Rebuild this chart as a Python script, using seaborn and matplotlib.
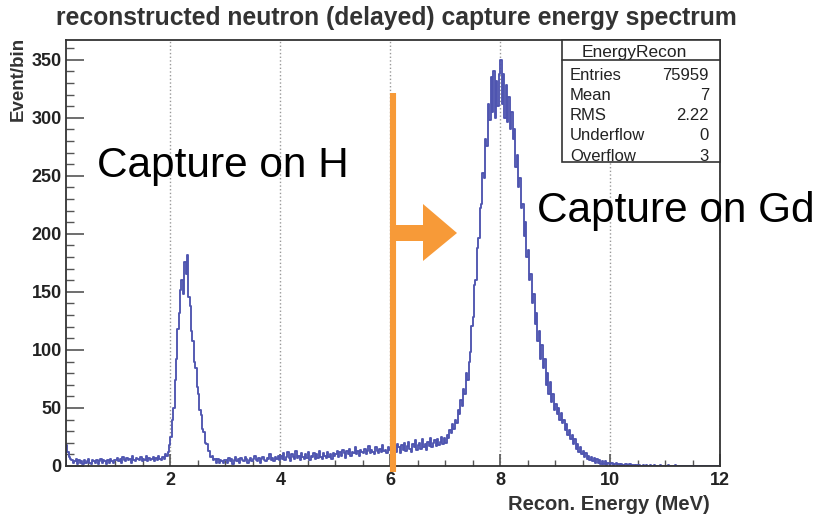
import numpy as np
import pandas as pd
import matplotlib
matplotlib.use('Agg')
import matplotlib.pyplot as plt
from matplotlib.ticker import MultipleLocator
from matplotlib.patches import Polygon, Rectangle
import seaborn as sns

# histogram counts, 0.025 MeV bins from 0 to 12 MeV (one row per MeV, 40 bins each)
counts_0 = [0, 0, 0, 0, 18, 12, 8, 6, 5, 3, 4, 6, 2, 5, 3, 4, 2, 5, 3, 4,
            6, 3, 2, 5, 4, 3, 5, 2, 4, 6, 3, 5, 4, 2, 5, 3, 6, 4, 3, 5]
counts_1 = [5, 7, 4, 6, 3, 8, 5, 4, 7, 5, 6, 3, 9, 5, 4, 7, 6, 5, 8, 4,
            6, 5, 9, 4, 7, 5, 6, 8, 4, 7, 5, 9, 6, 5, 8, 6, 10, 9, 12, 18]
counts_2 = [25, 40, 50, 74, 92, 118, 132, 152, 160, 148, 176, 165, 182, 146, 138, 116, 108, 90, 84, 68,
            62, 48, 44, 32, 29, 20, 19, 13, 13, 8, 9, 5, 6, 3, 6, 3, 5, 4, 3, 5]
counts_3 = [5, 3, 7, 4, 6, 2, 5, 8, 4, 6, 3, 7, 5, 4, 8, 6, 3, 5, 7, 4,
            6, 9, 5, 4, 7, 3, 6, 8, 5, 4, 7, 6, 10, 5, 7, 4, 8, 6, 9, 5]
counts_4 = [9, 6, 11, 5, 8, 12, 7, 4, 10, 8, 6, 13, 7, 9, 5, 11, 8, 6, 10, 7,
            12, 5, 9, 8, 11, 6, 10, 7, 13, 8, 6, 11, 9, 7, 12, 8, 10, 6, 11, 9]
counts_5 = [10, 13, 8, 12, 9, 14, 11, 7, 13, 10, 15, 9, 12, 11, 16, 10, 13, 9, 14, 12,
            11, 15, 10, 13, 17, 11, 14, 12, 10, 16, 13, 11, 15, 12, 18, 13, 14, 11, 16, 14]
counts_6 = [15, 18, 13, 17, 12, 19, 16, 11, 18, 14, 20, 13, 17, 21, 15, 12, 19, 16, 22, 14,
            18, 20, 15, 23, 16, 19, 14, 21, 17, 24, 16, 20, 22, 17, 23, 18, 21, 25, 19, 24]
counts_7 = [20, 27, 24, 31, 28, 36, 32, 40, 37, 48, 45, 57, 52, 66, 62, 80, 74, 90, 98, 121,
            128, 156, 160, 188, 196, 222, 226, 252, 248, 282, 276, 312, 298, 335, 305, 340, 300, 332, 310, 338]
counts_8 = [350, 312, 338, 300, 328, 296, 318, 290, 305, 282, 290, 258, 268, 240, 248, 222, 226, 198, 210, 180,
            186, 160, 165, 140, 148, 122, 132, 108, 116, 92, 104, 84, 92, 70, 80, 62, 72, 55, 62, 48]
counts_9 = [53, 45, 50, 40, 46, 37, 40, 31, 36, 27, 31, 23, 27, 19, 23, 15, 19, 12, 16, 10,
            13, 8, 11, 6, 9, 5, 8, 4, 7, 3, 6, 3, 5, 2, 4, 2, 4, 1, 3, 2]
counts_10 = [2, 3, 1, 2, 3, 1, 2, 0, 2, 1, 1, 2, 0, 1, 2, 0, 1, 1, 0, 1,
             0, 1, 0, 0, 1, 0, 1, 0, 0, 1, 0, 0, 1, 0, 0, 0, 1, 0, 0, 0]
counts_11 = [0, 0, 1, 0, 0, 0, 0, 1, 0, 0, 0, 0, 0, 0, 0, 0, 0, 0, 0, 0,
             0, 0, 0, 0, 0, 0, 0, 0, 0, 0, 0, 0, 0, 0, 0, 0, 0, 0, 0, 0]

stat_names = ['Entries', 'Mean', 'RMS', 'Underflow', 'Overflow']
stat_values = ['75959', '7', '2.22', '0', '3']

x_ticks = [2, 4, 6, 8, 10, 12]
y_ticks = [0, 50, 100, 150, 200, 250, 300, 350]

counts = (counts_0 + counts_1 + counts_2 + counts_3 + counts_4 + counts_5 +
          counts_6 + counts_7 + counts_8 + counts_9 + counts_10 + counts_11)
bin_width = 0.025
centers = bin_width * (np.arange(len(counts)) + 0.5)
df = pd.DataFrame({'energy': centers, 'counts': counts})

sns.set_style('white')
plt.rcParams['font.family'] = ['Liberation Sans', 'DejaVu Sans']

W, H = 817, 516
fig = plt.figure(figsize=(W / 100, H / 100), dpi=100)
ax = fig.add_axes([66 / W, 1 - 466 / H, (720 - 66) / W, (466 - 40) / H])


def px(x, y):
    # pixel position -> figure fraction
    return x / W, 1 - y / H


sns.histplot(data=df, x='energy', weights='counts', binwidth=bin_width,
             binrange=(0, 12), element='step', fill=False, color='#4f55b0',
             linewidth=1.35, ax=ax)

ax.set_xlim(0.1, 12)
ax.set_ylim(0, 367)
ax.set_xticks(x_ticks)
ax.set_yticks(y_ticks)
ax.xaxis.set_minor_locator(MultipleLocator(0.5))
ax.yaxis.set_minor_locator(MultipleLocator(10))
ax.tick_params(which='both', direction='in', bottom=True, left=True,
               top=False, right=False, colors='#555', labelcolor='#222',
               labelsize=13)
ax.tick_params(axis='y', which='major', length=13, width=1.2, pad=3)
ax.tick_params(axis='y', which='minor', length=6, width=1)
ax.tick_params(axis='x', which='major', length=9, width=1.2, pad=4)
ax.tick_params(axis='x', which='minor', length=4, width=1)
for lab in ax.get_xticklabels() + ax.get_yticklabels():
    lab.set_fontweight('bold')
for sp in ax.spines.values():
    sp.set_color('#333')
    sp.set_linewidth(1.3)
ax.xaxis.grid(True, which='major', linestyle=':', color='#999', linewidth=1)
ax.set_xlabel('')
ax.set_ylabel('')

fig.text(*px(396, 18), 'reconstructed neutron (delayed) capture energy spectrum',
         ha='center', va='center', fontsize=17.8, fontweight='bold', color='#333')
fig.text(*px(18, 37), 'Event/bin', rotation=90, ha='center', va='top',
         fontsize=13.5, fontweight='bold', color='#333')
fig.text(*px(710, 505), 'Recon. Energy (MeV)', ha='right', va='center',
         fontsize=14.5, fontweight='bold', color='#333')

# stats box
fig.add_artist(Rectangle(px(562, 162), (720 - 562) / W, (162 - 40) / H,
                         transform=fig.transFigure, facecolor='white',
                         edgecolor='#333', linewidth=1.2))
fig.add_artist(plt.Line2D([562 / W, 720 / W], [1 - 60 / H] * 2,
                          transform=fig.transFigure, color='#333', linewidth=1.2))
fig.text(*px(634, 52), 'EnergyRecon', ha='center', va='center', fontsize=12.5,
         color='#222')
for i, (name, val) in enumerate(zip(stat_names, stat_values)):
    y = 75 + i * 20.3
    fig.text(*px(570, y), name, ha='left', va='center', fontsize=12, color='#222')
    fig.text(*px(709, y), val, ha='right', va='center', fontsize=12, color='#222')

# orange annotation
orange = '#f79a38'
fig.add_artist(plt.Line2D([393 / W] * 2, [1 - 93 / H, 1 - 472 / H],
                          transform=fig.transFigure, color=orange, linewidth=4.4,
                          solid_capstyle='butt'))
arrow_px = [(391, 225), (423, 225), (423, 204), (457, 233), (423, 261), (423, 241), (391, 241)]
fig.add_artist(Polygon([px(x, y) for x, y in arrow_px], closed=True,
                       transform=fig.transFigure, facecolor=orange, edgecolor='none'))

fig.text(97 / W, 1 - 177 / H, 'Capture on H', ha='left', va='baseline',
         fontsize=30.5, color='black')
fig.text(537 / W, 1 - 222 / H, 'Capture on Gd', ha='left', va='baseline',
         fontsize=30.5, color='black')

fig.savefig('out.png', dpi=100)
